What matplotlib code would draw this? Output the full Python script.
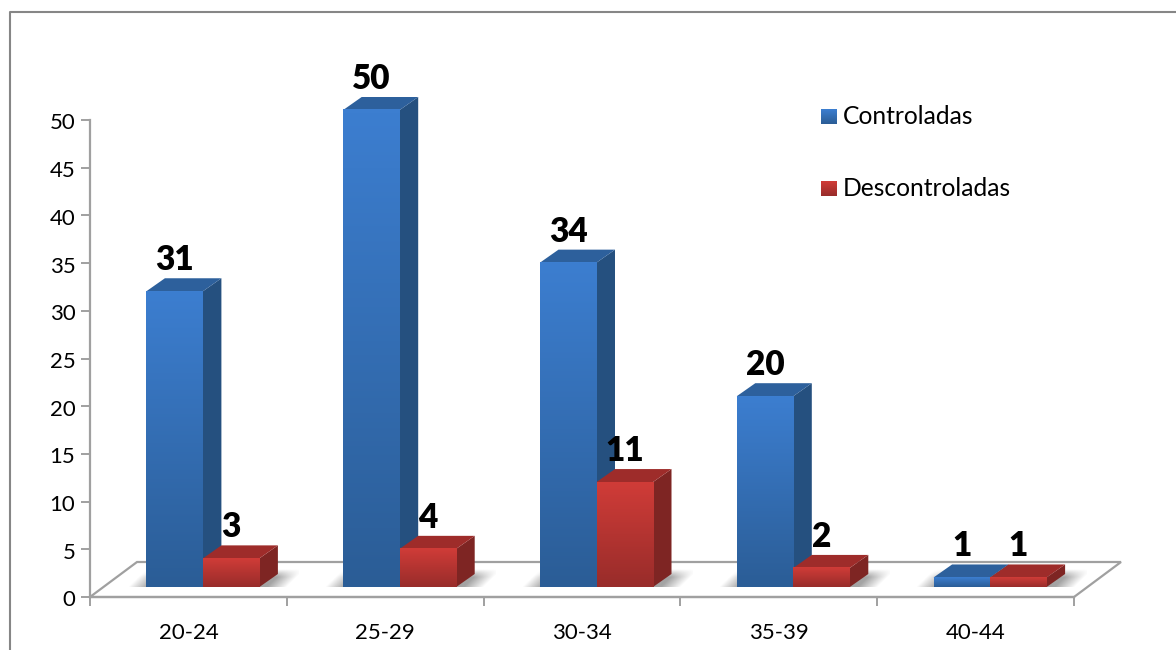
import numpy as np
import matplotlib
matplotlib.use('Agg')
import matplotlib.pyplot as plt
from matplotlib.colors import LinearSegmentedColormap
from matplotlib.lines import Line2D
from matplotlib.patches import Polygon
from matplotlib.transforms import ScaledTranslation

plt.rcParams['font.family'] = ['Lato', 'DejaVu Sans']

# ── Data ──────────────────────────────────────────────────────────────────────
categories = ['20-24', '25-29', '30-34', '35-39', '40-44']
controladas = [31, 50, 34, 20, 1]
descontroladas = [3, 4, 11, 2, 1]
y_ticks = [0, 5, 10, 15, 20, 25, 30, 35, 40, 45, 50]

# ── Figure geometry (pixels) ──────────────────────────────────────────────────
W, H = 1176, 650
AX_LEFT, AX_RIGHT, AX_BOTTOM, AX_TOP = 90, 1074, 597, 120
PX_X = 5 / (AX_RIGHT - AX_LEFT)
PX_Y = 50 / (AX_BOTTOM - AX_TOP)

BAR_W = 56.5 * PX_X
OFF_X, OFF_Y = 14.5 * PX_X, 10 * PX_Y     # base of the bars, set back on the floor
DEPTH_X, DEPTH_Y = 18.5 * PX_X, 13 * PX_Y # bar extrusion
FLOOR_X, FLOOR_Y = 47 * PX_X, 35 * PX_Y   # floor extrusion

BLUE = dict(front=('#3C7ED0', '#2B5D96'), side=('#25507F', '#1D3F68'), top='#2D609C')
RED = dict(front=('#D03C38', '#982C2A'), side=('#7E2523', '#641C1B'), top='#9E2C2A')
GRAY = '#A0A0A0'

fig = plt.figure(figsize=(W / 100, H / 100), dpi=100, facecolor='white')
ax = fig.add_axes([AX_LEFT / W, 1 - AX_BOTTOM / H,
                   (AX_RIGHT - AX_LEFT) / W, (AX_BOTTOM - AX_TOP) / H])
ax.patch.set_alpha(0)


def gradient(x0, x1, y0, y1, colors, zorder):
    cmap = LinearSegmentedColormap.from_list('g', colors)
    ax.imshow(np.linspace(0, 1, 128)[:, None], cmap=cmap, aspect='auto', origin='upper',
              extent=(x0, x1, y0, y1), zorder=zorder, clip_on=False, interpolation='bilinear')


def shadow(x0, x1):
    # soft shadow on the floor, slanted along the floor depth
    xs = np.linspace(x0 - 18 * PX_X, x1 + 40 * PX_X, 240)
    ys = np.linspace(OFF_Y, OFF_Y + 18 * PX_Y, 40)
    t = np.linspace(0, 1, 40)[:, None]
    left = xs[0] + t * 18 * PX_X
    right = x1 + 18 * PX_X + t * 18 * PX_X
    fx = np.clip((xs - left) / (20 * PX_X), 0, 1) * np.clip((right - xs) / (20 * PX_X) + 0.5, 0, 1)
    fy = np.clip((1 - t) / 0.45, 0, 1)
    rgba = np.zeros((40, 240, 4))
    rgba[..., :3] = 0.4
    rgba[..., 3] = 0.6 * fx * fy
    ax.imshow(rgba, aspect='auto', origin='lower', zorder=1, interpolation='bilinear',
              extent=(xs[0], xs[-1], ys[0], ys[-1]), clip_on=False)


def bar3d(x, value, style, zorder):
    y0, y1 = OFF_Y, OFF_Y + value
    x1 = x + BAR_W
    side = Polygon([(x1, y0), (x1 + DEPTH_X, y0 + DEPTH_Y),
                    (x1 + DEPTH_X, y1 + DEPTH_Y), (x1, y1)],
                   closed=True, fc=style['side'][0], ec='none', zorder=zorder, clip_on=False)
    top = Polygon([(x, y1), (x + DEPTH_X, y1 + DEPTH_Y),
                   (x1 + DEPTH_X, y1 + DEPTH_Y), (x1, y1)],
                  closed=True, fc=style['top'], ec='none', zorder=zorder, clip_on=False)
    ax.add_patch(side)
    ax.add_patch(top)
    gradient(x, x1, y0, y1, style['front'], zorder + 0.1)
    ax.text(x + BAR_W / 2, y1 + DEPTH_Y + 2 * PX_Y, str(value), ha='center',
            va='bottom', fontsize=24, fontweight='heavy', color='black', zorder=6,
            linespacing=1)


# ── Floor ─────────────────────────────────────────────────────────────────────
ax.add_patch(Polygon([(0, 0), (FLOOR_X, FLOOR_Y), (5 + FLOOR_X, FLOOR_Y), (5, 0)],
                     closed=True, fc='none', ec=GRAY, lw=1.6, zorder=0.5, clip_on=False))

# ── Bars ──────────────────────────────────────────────────────────────────────
for i, (c, d) in enumerate(zip(controladas, descontroladas)):
    x_mid = i + 0.5 + OFF_X
    shadow(x_mid - BAR_W, x_mid + BAR_W)
    bar3d(x_mid - BAR_W, c, BLUE, 2)
    bar3d(x_mid, d, RED, 3)

ax.set_xlim(0, 5)
ax.set_ylim(0, 50)

# ── Axes ──────────────────────────────────────────────────────────────────────
for name in ('top', 'right'):
    ax.spines[name].set_visible(False)
for name in ('left', 'bottom'):
    ax.spines[name].set_color(GRAY)
    ax.spines[name].set_linewidth(1.6)

ax.set_yticks(y_ticks)
ax.set_yticklabels([str(v) for v in y_ticks])
ax.set_xticks(np.arange(len(categories)) + 0.5)
ax.set_xticklabels(categories)
ax.set_xticks(np.arange(len(categories) + 1), minor=True)
ax.tick_params(axis='y', length=6.5, width=1.4, color=GRAY, labelsize=16, pad=4)
ax.tick_params(axis='x', which='major', length=0, labelsize=16, pad=19)
ax.tick_params(axis='x', which='minor', length=6.5, width=1.4, color=GRAY)
nudge = ScaledTranslation(0, -1.5 / 100, fig.dpi_scale_trans)
for lab in ax.get_yticklabels():
    lab.set_transform(lab.get_transform() + nudge)

# ── Legend ────────────────────────────────────────────────────────────────────
for label, style, y_px in (('Controladas', BLUE, 116.5), ('Descontroladas', RED, 188.5)):
    key = fig.add_axes([821 / W, 1 - (y_px + 7.5) / H, 16 / W, 15 / H])
    key.imshow(np.linspace(0, 1, 32)[:, None], aspect='auto',
               cmap=LinearSegmentedColormap.from_list('k', style['front']))
    key.axis('off')
    fig.text(843 / W, 1 - (y_px + 0.5) / H, label, ha='left', va='center',
             fontsize=17.7, color='black')

# ── Outer frame ───────────────────────────────────────────────────────────────
fig.add_artist(Line2D([10 / W, 10 / W, 1], [0, 1 - 12 / H, 1 - 12 / H],
                      color='#868686', lw=1.5, transform=fig.transFigure))

fig.savefig('out.png', dpi=100, facecolor='white')
